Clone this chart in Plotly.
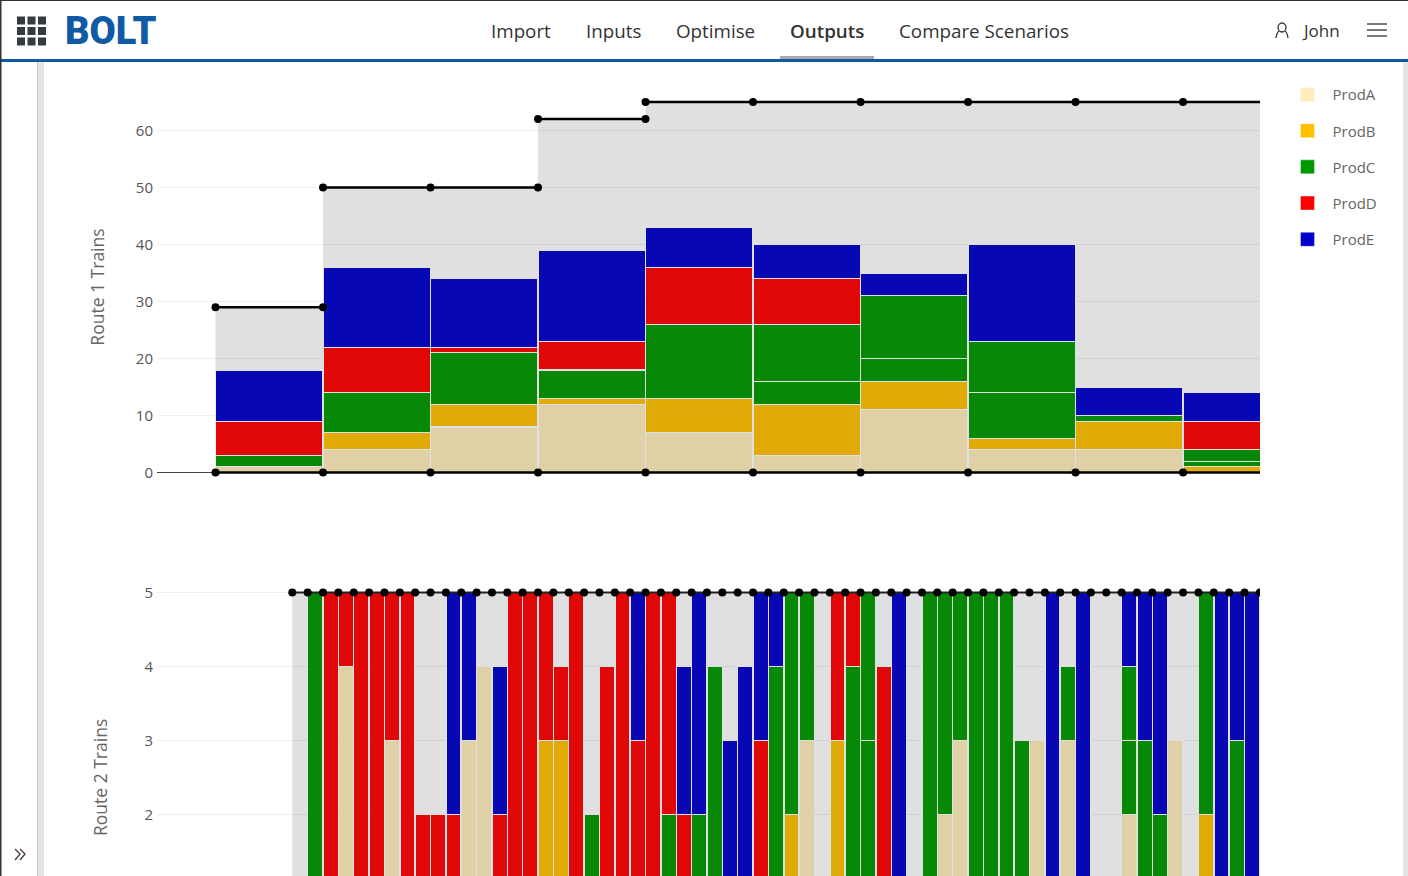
import plotly.graph_objects as go

W = 1408
H = 876

products = ["ProdA", "ProdB", "ProdC", "ProdC2", "ProdD", "ProdE"]
legend_colors = {"ProdA": "#ffedbc", "ProdB": "#ffc000", "ProdC": "#009900",
                 "ProdC2": "#009900", "ProdD": "#ff0000", "ProdE": "#0000cc"}

# Route 1, one bar per week (x = first day of the week)
weeks = [0, 7, 14, 21, 28, 35, 42, 49, 56, 63]
r1_a = [1, 4, 8, 12, 7, 3, 11, 4, 4, 0]
r1_b = [0, 3, 4, 1, 6, 9, 5, 2, 5, 1]
r1_c = [2, 7, 9, 5, 13, 4, 4, 8, 1, 1]
r1_c2 = [0, 0, 0, 0, 0, 10, 11, 9, 0, 2]
r1_d = [6, 8, 1, 5, 10, 8, 0, 0, 0, 5]
r1_e = [9, 14, 12, 16, 7, 6, 4, 17, 5, 5]

r1_cap_x = [0, 7, None, 7, 14, 21, None, 21, 28, None, 28, 35, 42, 49, 56, 63, 70]
r1_cap_y = [29, 29, None, 50, 50, 50, None, 62, 62, None, 65, 65, 65, 65, 65, 65, 65]
r1_low_x = [0, 7, 14, 21, 28, 35, 42, 49, 56, 63, 70]
r1_low_y = [0, 0, 0, 0, 0, 0, 0, 0, 0, 0, 0]

# Route 2, one bar per day
days = list(range(5, 68))
r2_a = [0, 0, 0, 4, 0, 0, 3, 0, 0, 0,
        0, 3, 4, 0, 0, 0, 0, 0, 0, 0,
        0, 0, 0, 0, 0, 0, 0, 0, 0, 0,
        0, 0, 0, 3, 0, 0, 0, 0, 0, 0,
        0, 0, 2, 3, 0, 0, 0, 0, 3, 0,
        3, 0, 0, 0, 2, 0, 0, 3, 0, 0,
        0, 0, 0]
r2_b = [0, 0, 0, 0, 0, 0, 0, 0, 0, 0,
        0, 0, 0, 0, 0, 0, 3, 3, 0, 0,
        0, 0, 0, 0, 0, 0, 0, 0, 0, 0,
        0, 0, 2, 0, 0, 3, 0, 0, 0, 0,
        0, 0, 0, 0, 0, 0, 0, 0, 0, 0,
        0, 0, 0, 0, 0, 0, 0, 0, 0, 2,
        0, 0, 0]
r2_c = [0, 5, 0, 0, 0, 0, 0, 0, 0, 0,
        0, 0, 0, 0, 0, 0, 0, 0, 0, 2,
        0, 0, 0, 0, 2, 0, 2, 4, 0, 0,
        0, 4, 3, 2, 0, 0, 4, 3, 0, 0,
        0, 5, 3, 2, 5, 5, 5, 3, 0, 0,
        1, 0, 0, 0, 1, 3, 2, 0, 0, 3,
        0, 3, 0]
r2_c2 = [0, 0, 0, 0, 0, 0, 0, 0, 0, 0,
         0, 0, 0, 0, 0, 0, 0, 0, 0, 0,
         0, 0, 0, 0, 0, 0, 0, 0, 0, 0,
         0, 0, 0, 0, 0, 0, 0, 2, 0, 0,
         0, 0, 0, 0, 0, 0, 0, 0, 0, 0,
         0, 0, 0, 0, 1, 0, 0, 0, 0, 0,
         0, 0, 0]
r2_d = [0, 0, 5, 1, 5, 5, 2, 5, 2, 2,
        2, 0, 0, 2, 5, 5, 2, 1, 5, 0,
        4, 5, 3, 5, 3, 2, 0, 0, 0, 0,
        3, 0, 0, 0, 0, 2, 1, 0, 4, 0,
        0, 0, 0, 0, 0, 0, 0, 0, 0, 0,
        0, 0, 0, 0, 0, 0, 0, 0, 0, 0,
        0, 0, 0]
r2_e = [0, 0, 0, 0, 0, 0, 0, 0, 0, 0,
        3, 2, 0, 2, 0, 0, 0, 0, 0, 0,
        0, 0, 2, 0, 0, 2, 3, 0, 3, 4,
        2, 1, 0, 0, 0, 0, 0, 0, 0, 5,
        0, 0, 0, 0, 0, 0, 0, 0, 0, 5,
        0, 5, 0, 0, 1, 2, 3, 0, 0, 0,
        5, 2, 5]

r2_cap_x = days + [68]
r2_cap_y = [5, 5, 5, 5, 5, 5, 5, 5, 5, 5, 5, 5, 5, 5, 5, 5,
            5, 5, 5, 5, 5, 5, 5, 5, 5, 5, 5, 5, 5, 5, 5, 5,
            5, 5, 5, 5, 5, 5, 5, 5, 5, 5, 5, 5, 5, 5, 5, 5,
            5, 5, 5, 5, 5, 5, 5, 5, 5, 5, 5, 5, 5, 5, 5, 5]

route1 = [r1_a, r1_b, r1_c, r1_c2, r1_d, r1_e]
route2 = [r2_a, r2_b, r2_c, r2_c2, r2_d, r2_e]


def px(x):
    return x / W


def py(y):
    return 1 - y / H


fig = go.Figure()

for name, values in zip(products, route1):
    fig.add_trace(go.Bar(x=weeks, y=values, width=7, offset=0, name=name.replace("2", ""),
                         legendgroup=name, showlegend=False,
                         marker=dict(color=legend_colors[name], opacity=0.965, line=dict(color="white", width=1.2)),
                         xaxis="x", yaxis="y"))

for name, values in zip(products, route2):
    fig.add_trace(go.Bar(x=days, y=values, width=1, offset=0, name=name.replace("2", ""),
                         legendgroup=name, showlegend=False,
                         marker=dict(color=legend_colors[name], opacity=0.965, line=dict(color="white", width=1.5)),
                         xaxis="x2", yaxis="y2"))

# legend swatches are bigger than the ones a bar trace gets
for name in products:
    if name == "ProdC2":
        continue
    fig.add_trace(go.Scatter(x=[None], y=[None], mode="markers", name=name, legendgroup=name,
                             marker=dict(symbol="square", size=14, color=legend_colors[name],
                                         line=dict(color="rgba(255,255,255,0.4)", width=1)),
                             xaxis="x", yaxis="y"))

marker_style = dict(color="black", size=8)

# grey band sits over the bars, that is what darkens their colours
fig.add_trace(go.Scatter(x=r1_cap_x, y=r1_cap_y, mode="lines+markers", fill="tozeroy",
                         fillcolor="rgba(0,0,0,0.12)", line=dict(color="black", width=2.5), marker=marker_style,
                         showlegend=False, xaxis="x", yaxis="y"))
fig.add_trace(go.Scatter(x=r1_low_x, y=r1_low_y, mode="lines+markers", line=dict(color="black", width=2.5),
                         marker=marker_style, showlegend=False, xaxis="x", yaxis="y"))
fig.add_trace(go.Scatter(x=r2_cap_x, y=r2_cap_y, mode="lines+markers", fill="tozeroy",
                         fillcolor="rgba(0,0,0,0.12)", line=dict(color="#222222", width=2), marker=marker_style,
                         showlegend=False, xaxis="x2", yaxis="y2"))

x_range = [-3.81, 68.01]
axis_font = dict(family="Open Sans", size=15, color="#555555")
title_font = dict(family="Open Sans", size=17.5, color="#666666")

fig.update_layout(
    width=W,
    height=H,
    autosize=False,
    barmode="stack",
    paper_bgcolor="white",
    plot_bgcolor="white",
    margin=dict(l=0, r=0, t=0, b=0, autoexpand=False),
    font=dict(family="Open Sans", color="#555555"),
    xaxis=dict(domain=[px(157), px(1260)], range=x_range, visible=False, anchor="y"),
    xaxis2=dict(domain=[px(157), px(1260)], range=x_range, visible=False, anchor="y2"),
    yaxis=dict(domain=[py(494), py(80)], range=[-3.77, 68.86], anchor="x",
               tickvals=[0, 10, 20, 30, 40, 50, 60], tickfont=axis_font, ticklabelstandoff=3,
               gridcolor="#eeeeee", zeroline=True, zerolinecolor="#444444", zerolinewidth=1,
               showline=False, ticks="", title=dict(text="Route 1 Trains", font=title_font, standoff=26)),
    yaxis2=dict(domain=[0, py(580)], range=[1.169, 5.169], anchor="x2",
                tickvals=[2, 3, 4, 5], tickfont=axis_font, ticklabelstandoff=3,
                gridcolor="#eeeeee", zeroline=False,
                showline=False, ticks=""),
    legend=dict(x=px(1282.5), y=py(78.2), xanchor="left", yanchor="top", itemwidth=40,
                traceorder="grouped", tracegroupgap=13.7, bgcolor="rgba(0,0,0,0)",
                font=dict(family="Open Sans", size=15, color="#666666")),
)

# page header and side strips around the chart
shapes = [
    dict(type="rect", x0=0, x1=px(W), y0=py(62), y1=py(59), fillcolor="#0f5aa5"),
    dict(type="rect", x0=0, x1=px(W), y0=py(1), y1=py(0), fillcolor="#333333"),
    dict(type="rect", x0=0, x1=px(1.5), y0=0, y1=1, fillcolor="#333333"),
    dict(type="rect", x0=px(37), x1=px(44), y0=0, y1=py(62), fillcolor="#e4e4e4"),
    dict(type="rect", x0=px(37), x1=px(38), y0=0, y1=py(62), fillcolor="#c8c8c8"),
    dict(type="rect", x0=px(1403), x1=px(1408), y0=0, y1=py(62), fillcolor="#e4e4e4"),
    dict(type="rect", x0=px(780), x1=px(874), y0=py(59), y1=py(56), fillcolor="#aaaaaa"),
]
for row in range(3):
    for col in range(3):
        left = 17 + col * 10.5
        top = 16.5 + row * 10.5
        shapes.append(dict(type="rect", x0=px(left), x1=px(left + 8), y0=py(top + 8), y1=py(top),
                           fillcolor="#333a40"))
for s in shapes:
    s["line"] = dict(width=0)
for y in [24, 30, 36]:
    shapes.append(dict(type="line", x0=px(1367), x1=px(1387), y0=py(y), y1=py(y),
                       line=dict(color="#333333", width=1.3)))
shapes.append(dict(type="circle", x0=px(1278), x1=px(1286), y0=py(32), y1=py(23),
                   line=dict(color="#333333", width=1.3)))


def path(points):
    return "M" + " L".join(f"{px(a):.5f},{py(b):.5f}" for a, b in points)


shapes.append(dict(type="path", path=f"M{px(1276):.5f},{py(38):.5f} Q{px(1277):.5f},{py(32):.5f} {px(1279):.5f},{py(31):.5f}",
                   line=dict(color="#333333", width=1.3)))
shapes.append(dict(type="path", path=f"M{px(1288):.5f},{py(38):.5f} Q{px(1287):.5f},{py(32):.5f} {px(1285):.5f},{py(31):.5f}",
                   line=dict(color="#333333", width=1.3)))
shapes.append(dict(type="path", path=path([(15, 849), (20, 854), (15, 860)]), line=dict(color="#4a3a3a", width=1.3)))
shapes.append(dict(type="path", path=path([(20, 849), (25, 854), (20, 860)]), line=dict(color="#4a3a3a", width=1.3)))
for s in shapes:
    s["xref"] = "paper"
    s["yref"] = "paper"
fig.update_layout(shapes=shapes)

nav = [("Import", 489, 400), ("Inputs", 584, 400), ("Optimise", 674, 400),
       ("Outputs", 788, 600), ("Compare Scenarios", 897, 400), ("John", 1300, 400)]
for label, left, weight in nav:
    fig.add_annotation(text=label, x=px(left), y=py(31), xref="paper", yref="paper",
                       xanchor="left", yanchor="middle", showarrow=False,
                       font=dict(family="Open Sans", size=18.8 if label != "John" else 17, weight=weight,
                                 color="#333333"))
fig.add_annotation(text="BOLT", x=px(63), y=py(30.5), xref="paper", yref="paper", xanchor="left",
                   yanchor="middle", showarrow=False,
                   font=dict(family="Roboto", size=38, weight=900, color="#0f5aa5"))
# the axis runs on below the window, so its title is centred lower than the visible part
fig.add_annotation(text="Route 2 Trains", x=px(100), y=py(778), xref="paper", yref="paper", textangle=-90,
                   xanchor="center", yanchor="middle", showarrow=False, font=title_font)

fig.write_html("out.html", config={"displayModeBar": False}, post_script="document.body.style.margin = '0';")
